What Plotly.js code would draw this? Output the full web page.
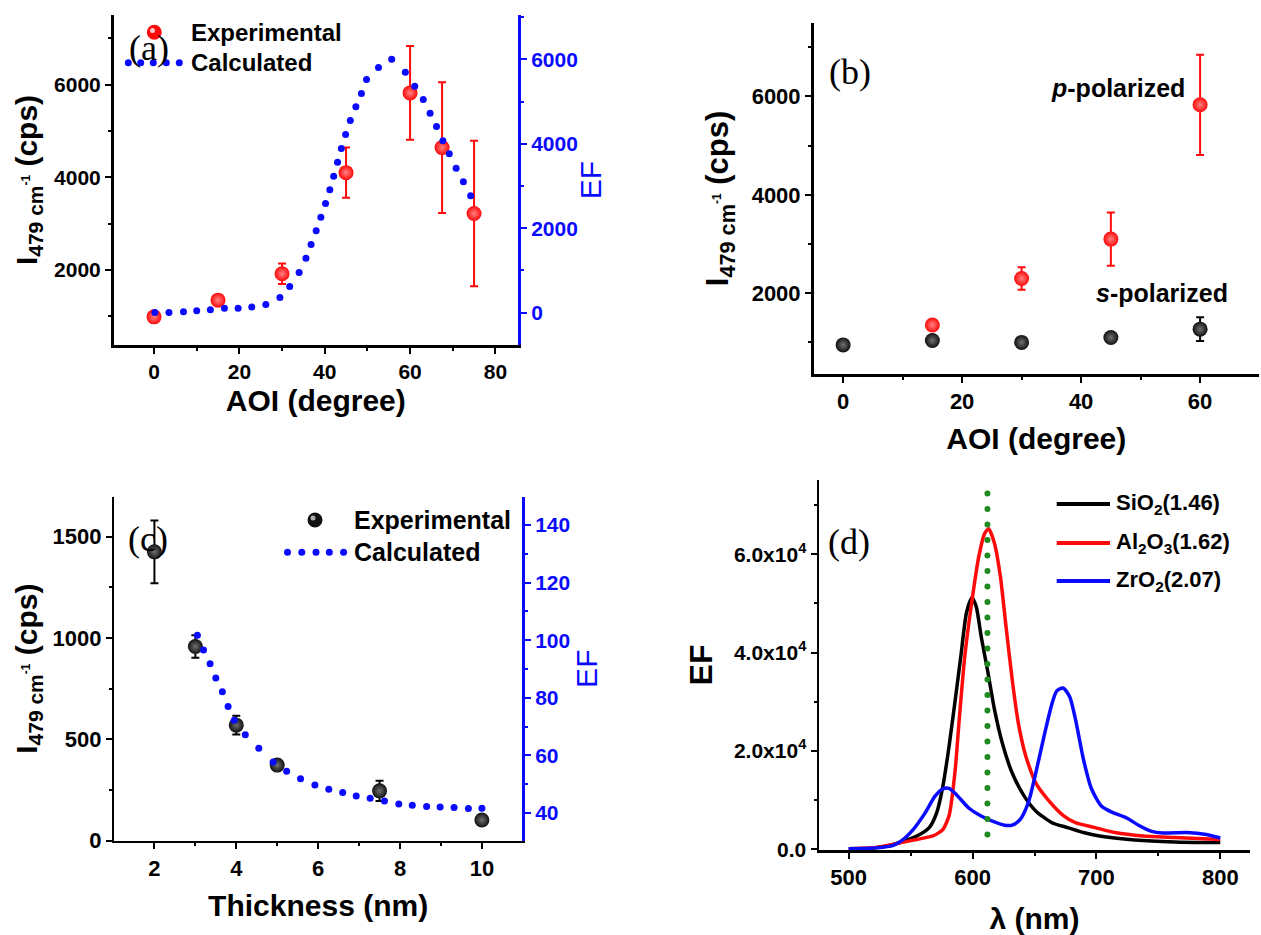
<!DOCTYPE html>
<html><head><meta charset="utf-8">
<script src="https://cdn.plot.ly/plotly-3.0.1.min.js"></script>
<style>html,body{margin:0;padding:0;background:#fff}#chart{width:1261px;height:935px}</style>
</head><body><div id="chart"></div>
<script>
// ---------- Panel (a): AOI dependence, p-polarized ----------
const aoiExpA = [0, 15, 30, 45, 60, 67.5, 75];
const intExpA = [990, 1350, 1920, 4100, 5820, 4640, 3220];
const errExpA = [0, 0, 220, 540, 1010, 1410, 1570];
const aoiCalcA = [0.2,3.5,6.9,10.0,13.2,16.5,19.7,22.9,26.2,29.5,31.8,34.0,35.6,36.8,38.0,39.1,40.2,41.2,42.1,43.0,43.9,44.9,46.0,47.3,48.6,49.8,52.6,55.7,58.9,61.1,63.1,64.7,66.2,67.7,69.2,70.8,72.5,74.2];
const efCalcA = [0,0,16,40,63,103,103,134,190,356,617,949,1289,1613,1937,2261,2585,2909,3233,3565,3889,4221,4553,4877,5194,5526,5810,6008,5700,5368,5051,4727,4411,4071,3763,3423,3099,2767];

// ---------- Panel (b): p vs s polarization ----------
const aoiP = [15, 30, 45, 60];
const intP = [1355, 2300, 3100, 5830];
const errP = [0, 230, 540, 1020];
const aoiS = [0, 15, 30, 45, 60];
const intS = [950, 1040, 1000, 1100, 1270];
const errS = [0, 0, 0, 0, 240];

// ---------- Panel (c): thickness dependence ----------
const thickExp = [2, 3, 4, 5, 7.5, 10];
const intExpC = [1425, 958, 570, 373, 246, 102];
const errExpC = [155, 55, 46, 20, 50, 0];
const thickCalc = [3.05,3.20,3.36,3.50,3.66,3.80,3.95,4.22,4.55,4.90,5.23,5.57,5.92,6.26,6.60,6.93,7.27,7.62,7.97,8.30,8.65,8.98,9.32,9.67,10.0];
const efCalcC = [101.7,96.6,91.8,86.9,82.1,77.0,72.2,67.2,62.5,57.7,54.5,51.9,49.7,48.3,47.1,45.9,45.1,44.2,43.1,42.7,42.3,42.1,41.9,41.6,41.7];

// ---------- Panel (d): EF spectra ----------
const wlSiO2 = [500,520,536,555,565,571,576,581,586,590.5,595,599.5,603,607,612,617.7,624,632,641.7,651,664,676.8,689.6,702.4,731,763,800];
const efSiO2 = [100,250,1000,2700,4400,7400,12800,20900,30400,39200,48000,51150,49300,43200,36500,28400,21600,15500,10800,7800,5400,4400,3400,2700,1900,1500,1350];
const wlAl2O3 = [500,520,536,555,568,576,581,586,589,593.7,600,605,609.7,613,617.7,622.5,627,632,636.9,643,651,660.8,673.6,683,699,715,737.6,763,800];
const efAl2O3 = [100,300,1000,2000,2700,4000,6800,16200,25700,39200,51400,59500,64200,65200,62200,55400,45300,34500,25700,18900,13500,10100,6800,5400,4400,3400,2700,2400,2000];
const wlZrO2 = [500,523,536,542.5,552,561.7,569.7,576,581,587,596.9,606.5,616,625.7,632,638.5,645,651,657.7,664,668,673,678.4,683,689.6,696,704,712,724.8,734,744,753.6,772.8,788.8,800];
const efZrO2 = [100,300,800,1700,4000,7400,10800,12300,12400,11100,8400,6800,5700,4900,4900,6100,9500,15500,23000,29500,32200,32800,31000,26500,18200,12300,8800,7600,6300,4900,3700,3300,3400,3000,2300];
const laserWl = [612, 612];
const laserEf = [3000, 72400];
const efTickVals = [0, 20000, 40000, 60000];
const efTickText = ['0.0', '2.0x10<sup>4</sup>', '4.0x10<sup>4</sup>', '6.0x10<sup>4</sup>'];

// ---------- styling helpers ----------
const W = 1261, H = 935;
const px = v => v / W, py = v => 1 - v / H;
const SANS = 'Liberation Sans, Arial, sans-serif';
const SERIF = 'Liberation Serif, Times New Roman, serif';
const BLUE = '#0a0aff', RED = '#ff0a0a', GREEN = '#1f8a1f';

function tf(size, color) { return {family: SANS, size: size, color: color || '#000', weight: 'bold'}; }
function axis(o) {
  const c = o.color || '#000';
  const a = {
    domain: o.domain, range: o.range, anchor: o.anchor, autorange: false,
    showline: true, linecolor: c, linewidth: o.lw || 2.5, mirror: false,
    ticks: o.ticks || 'outside', ticklen: 6, tickwidth: 2, tickcolor: c,
    showgrid: false, zeroline: false, automargin: false,
    tickfont: tf(o.fs || 21, c),
    minor: {dtick: o.minor, ticks: o.ticks || 'outside', ticklen: 3, tickwidth: 2, tickcolor: c, showgrid: false},
    fixedrange: true
  };
  if (o.dtick !== undefined) { a.dtick = o.dtick; a.tick0 = o.tick0 || 0; }
  if (o.tickvals) { a.tickmode = 'array'; a.tickvals = o.tickvals; a.ticktext = o.ticktext; }
  if (o.title) a.title = {text: o.title, font: o.titlefont || tf(28, c), standoff: o.standoff};
  if (o.side) a.side = o.side;
  if (o.overlaying) a.overlaying = o.overlaying;
  if (o.hideLabels) a.showticklabels = false;
  return a;
}

// domains (pixel measurements converted to paper fractions)
const dA = {x: [px(113.5), px(518)], y: [py(345), py(15)]};
const dB = {x: [px(813.5), px(1259)], y: [py(374), py(23)]};
const dC = {x: [px(114.3), px(522)], y: [py(840.7), py(496.7)]};
const dD = {x: [px(819), px(1250)], y: [py(850), py(480)]};

const sphere = (col, hi, size) => ({color: col, size: size, line: {width: 0}, gradient: {type: 'radial', color: hi}});

const traces = [
  // (a)
  {x: aoiCalcA, y: efCalcA, xaxis: 'x', yaxis: 'y2', mode: 'markers', type: 'scatter',
   marker: {color: BLUE, size: 7, line: {width: 0}}, name: 'Calculated', hoverinfo: 'skip'},
  {x: aoiExpA, y: intExpA, xaxis: 'x', yaxis: 'y', mode: 'markers', type: 'scatter',
   marker: sphere(RED, '#ff8080', 15), name: 'Experimental',
   error_y: {type: 'data', array: errExpA, visible: true, color: RED, thickness: 2, width: 4}},
  // (b)
  {x: aoiS, y: intS, xaxis: 'x2', yaxis: 'y3', mode: 'markers', type: 'scatter',
   marker: sphere('#111', '#707070', 15), name: 's-polarized',
   error_y: {type: 'data', array: errS, visible: true, color: '#000', thickness: 2, width: 4}},
  {x: aoiP, y: intP, xaxis: 'x2', yaxis: 'y3', mode: 'markers', type: 'scatter',
   marker: sphere(RED, '#ff8080', 15), name: 'p-polarized',
   error_y: {type: 'data', array: errP, visible: true, color: RED, thickness: 2, width: 4}},
  // (c)
  {x: thickExp, y: intExpC, xaxis: 'x3', yaxis: 'y4', mode: 'markers', type: 'scatter',
   marker: sphere('#111', '#707070', 15), name: 'Experimental',
   error_y: {type: 'data', array: errExpC, visible: true, color: '#000', thickness: 2, width: 4}},
  {x: thickCalc, y: efCalcC, xaxis: 'x3', yaxis: 'y5', mode: 'markers', type: 'scatter',
   marker: {color: BLUE, size: 7, line: {width: 0}}, name: 'Calculated'},
  // (d)
  {x: wlSiO2, y: efSiO2, xaxis: 'x4', yaxis: 'y6', mode: 'lines', type: 'scatter',
   line: {color: '#000', width: 3.5, shape: 'spline', smoothing: 0.6}, name: 'SiO2(1.46)'},
  {x: wlAl2O3, y: efAl2O3, xaxis: 'x4', yaxis: 'y6', mode: 'lines', type: 'scatter',
   line: {color: RED, width: 3.5, shape: 'spline', smoothing: 0.6}, name: 'Al2O3(1.62)'},
  {x: wlZrO2, y: efZrO2, xaxis: 'x4', yaxis: 'y6', mode: 'lines', type: 'scatter',
   line: {color: BLUE, width: 3.5, shape: 'spline', smoothing: 0.7}, name: 'ZrO2(2.07)'},
  {x: laserWl, y: laserEf, xaxis: 'x4', yaxis: 'y6', mode: 'lines', type: 'scatter',
   line: {color: GREEN, width: 6, dash: '6px,9px'}, name: 'laser'}
];

const yTitle = 'I<sub>479 cm</sub><span style="font-size:17px"><sup>-1</sup></span> (cps)';
const layout = {
  width: W, height: H, margin: {l: 0, r: 0, t: 0, b: 0},
  paper_bgcolor: '#fff', plot_bgcolor: 'rgba(0,0,0,0)', showlegend: false,
  font: {family: SANS, color: '#000'},
  // (a)
  xaxis: axis({domain: dA.x, range: [-9.5, 85.3], anchor: 'y', dtick: 20, minor: 10, fs: 21,
    title: 'AOI (degree)', titlefont: tf(30), standoff: 9}),
  yaxis: axis({domain: dA.y, range: [383, 7500], anchor: 'x', dtick: 2000, tick0: 0, minor: 1000, fs: 21,
    title: yTitle, titlefont: tf(30), standoff: 8}),
  yaxis2: axis({domain: dA.y, range: [-770, 7055], anchor: 'x', overlaying: 'y', side: 'right', color: BLUE,
    lw: 3, dtick: 2000, minor: 1000, fs: 21, title: 'EF',
    titlefont: {family: SANS, size: 30, color: BLUE}, standoff: 4}),
  xaxis5: axis({domain: dA.x, range: [-9.5, 85.3], anchor: 'y', overlaying: 'x', side: 'top', ticks: 'inside',
    dtick: 20, minor: 10, hideLabels: true}),
  // (b)
  xaxis2: axis({domain: dB.x, range: [-4.98, 69.9], anchor: 'y3', dtick: 20, minor: 10, fs: 22,
    title: 'AOI (degree)', titlefont: tf(30), standoff: 15}),
  yaxis3: axis({domain: dB.y, range: [358, 7493], anchor: 'x2', dtick: 2000, tick0: 0, minor: 1000, fs: 22,
    title: yTitle, titlefont: tf(31), standoff: 14}),
  xaxis6: axis({domain: dB.x, range: [-4.98, 69.9], anchor: 'y3', overlaying: 'x2', side: 'top', ticks: 'inside',
    dtick: 20, minor: 10, hideLabels: true}),
  yaxis7: axis({domain: dB.y, range: [358, 7493], anchor: 'x2', overlaying: 'y3', side: 'right', ticks: 'inside',
    dtick: 2000, minor: 1000, hideLabels: true}),
  // (c)
  xaxis3: axis({domain: dC.x, range: [1.02, 10.98], anchor: 'y4', dtick: 2, minor: 1, fs: 22,
    title: 'Thickness (nm)', titlefont: tf(30), standoff: 16}),
  yaxis4: axis({domain: dC.y, range: [0, 1697], anchor: 'x3', dtick: 500, minor: 250, fs: 22,
    title: yTitle, titlefont: tf(30), standoff: 6}),
  yaxis5: axis({domain: dC.y, range: [30.4, 149.8], anchor: 'x3', overlaying: 'y4', side: 'right', color: BLUE,
    lw: 3, dtick: 20, minor: 10, fs: 21, title: 'EF',
    titlefont: {family: SANS, size: 30, color: BLUE}, standoff: 4}),
  xaxis7: axis({domain: dC.x, range: [1.02, 10.98], anchor: 'y4', overlaying: 'x3', side: 'top', ticks: 'inside',
    dtick: 2, minor: 1, hideLabels: true}),
  // (d)
  xaxis4: axis({domain: dD.x, range: [476, 824], anchor: 'y6', dtick: 100, minor: 50, fs: 22,
    title: 'λ (nm)', titlefont: tf(30), standoff: 20}),
  yaxis6: axis({domain: dD.y, range: [-150, 75100], anchor: 'x4', tickvals: efTickVals, ticktext: efTickText,
    minor: 10000, fs: 21, title: 'EF', titlefont: tf(32), standoff: 12}),
  xaxis8: axis({domain: dD.x, range: [476, 824], anchor: 'y6', overlaying: 'x4', side: 'top', ticks: 'inside',
    dtick: 100, minor: 50, hideLabels: true}),
  yaxis8: axis({domain: dD.y, range: [-150, 75100], anchor: 'x4', overlaying: 'y6', side: 'right', ticks: 'inside',
    tickvals: efTickVals, ticktext: efTickText, minor: 10000, hideLabels: true}),
  annotations: [],
  shapes: []
};

function label(text, x, y, font, xanchor) {
  layout.annotations.push({text: text, x: px(x), y: py(y), xref: 'paper', yref: 'paper',
    xanchor: xanchor || 'center', yanchor: 'middle', showarrow: false, font: font});
}
function dot(x, y, r, color) {
  layout.shapes.push({type: 'circle', xref: 'paper', yref: 'paper', xsizemode: 'pixel', ysizemode: 'pixel',
    xanchor: px(x), yanchor: py(y), x0: -r, x1: r, y0: -r, y1: r, fillcolor: color, line: {width: 0}, layer: 'above'});
}
function seg(x0, x1, y, color) {
  layout.shapes.push({type: 'line', xref: 'paper', yref: 'paper', x0: px(x0), x1: px(x1), y0: py(y), y1: py(y),
    line: {color: color, width: 4}, layer: 'above'});
}
const panelFont = {family: SERIF, size: 36, color: '#000'};

// (a) legend + label
label('(a)', 149, 48, panelFont);
dot(154.3, 32.3, 7.5, RED); dot(152.5, 30.5, 2.5, '#ffc8c8');
label('Experimental', 189, 32.3, tf(24), 'left');
[128.3, 140.7, 153.3, 166.3, 179.3].forEach(x => dot(x, 62.7, 3.5, BLUE));
label('Calculated', 189, 62.7, tf(24), 'left');

// (b) labels
label('(b)', 850, 72.5, panelFont);
label('<i>p</i>-polarized', 1118, 88, tf(25));
label('<i>s</i>-polarized', 1162, 293, tf(25));

// (c) legend + label
label('(c)', 148, 538.7, panelFont);
dot(315, 520, 7.5, '#111'); dot(313, 518, 2.5, '#aaaaaa');
label('Experimental', 351.8, 520, tf(25), 'left');
[287.5, 301.8, 316, 329.3, 343.6].forEach(x => dot(x, 552.3, 3.5, BLUE));
label('Calculated', 351.8, 552.3, tf(25), 'left');

// (d) legend + label
label('(d)', 849, 542, panelFont);
seg(1056.7, 1110, 504, '#000'); label('SiO<sub>2</sub>(1.46)', 1114, 504, tf(22), 'left');
seg(1056.7, 1110, 543, RED); label('Al<sub>2</sub>O<sub>3</sub>(1.62)', 1114, 543, tf(22), 'left');
seg(1056.7, 1110, 581, BLUE); label('ZrO<sub>2</sub>(2.07)', 1114, 581, tf(22), 'left');

Plotly.newPlot('chart', traces, layout, {displayModeBar: false, staticPlot: true}).then(() => {
  // round the dotted laser line so it reads as a row of dots
  document.querySelectorAll('path.js-line').forEach(p => {
    const s = p.style.stroke || '';
    if (s.replace(/\s/g, '') === 'rgb(31,138,31)') {
      p.style.strokeLinecap = 'round';
      p.style.strokeDasharray = '0.1px,15.4px';
    }
  });
});
</script>
</body></html>
